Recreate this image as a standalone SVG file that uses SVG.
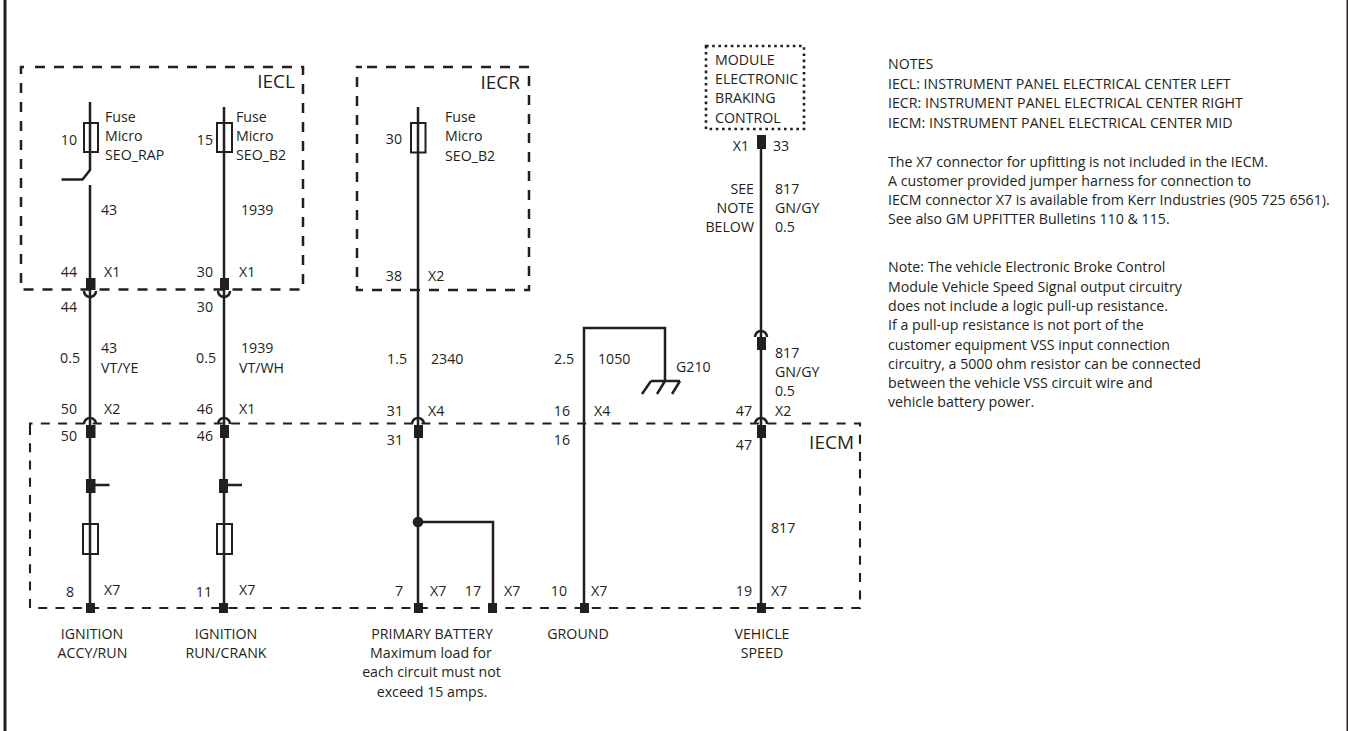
<svg xmlns="http://www.w3.org/2000/svg" width="1348" height="731" viewBox="0 0 1348 731">
<style>
text{font-family:"Open Sans","Noto Sans",sans-serif;font-size:14.2px;fill:#231f20}
.e{text-anchor:end}.m{text-anchor:middle}
.big{font-size:19px}
.w{fill:none;stroke:#231f20;stroke-width:2.5}
.b{fill:none;stroke:#231f20;stroke-width:2.5;stroke-dasharray:10 9}
.c{fill:none;stroke:#231f20;stroke-width:2.1;stroke-dasharray:9 8.300}
.d{fill:none;stroke:#231f20;stroke-width:2.6;stroke-dasharray:2.6 3.6}
.f{fill:none;stroke:#231f20;stroke-width:2}
.s{fill:#231f20}
</style>
<rect width="1348" height="731" fill="#fff"/>
<path d="M5 0V731" class="w" style="stroke-width:3"/>
<path d="M1347.500 0V731" class="w" style="stroke-width:2"/>
<g id="connectors">
<path d="M90 102V170L82.500 179.500H61.500" class="w"/>
<path d="M90 185V608" class="w"/>
<path d="M224 107V608" class="w"/>
<path d="M418 107V608" class="w"/>
<path d="M418 522H493V606" class="w"/>
<path d="M584 608V328H665V381" class="w"/>
<path d="M761 135V608" class="w"/>
<path d="M95 485H109.500M228 485H242" class="w"/>
<path d="M651 381H680M651 381L642 394M665 381L657 394M680 381L672 394" class="w"/>
<circle cx="418" cy="522" r="5.300" class="s"/>
</g>
<g id="IECL"><path d="M35 67H303V289.500H21V67H27" class="b"/><text x="295" y="88" class="big e">IECL</text>
<text x="105" y="122">Fuse</text><text x="105" y="141">Micro</text><text x="105" y="160">SEO_RAP</text><text x="77" y="145" class="e">10</text>
<text x="236" y="122">Fuse</text><text x="236" y="141">Micro</text><text x="236" y="160">SEO_B2</text><text x="213" y="145" class="e">15</text>
<text x="101" y="215">43</text><text x="241" y="215">1939</text>
<text x="77" y="277" class="e">44</text><text x="104" y="277">X1</text><text x="213" y="277" class="e">30</text><text x="239" y="277">X1</text>
<rect x="84" y="123" width="14" height="29" class="f"/><rect x="217" y="123" width="15" height="29" class="f"/></g>
<g id="IECR"><path d="M367 67H529V290H357V67H362" class="b"/><text x="520" y="89" class="big e">IECR</text>
<text x="445" y="122">Fuse</text><text x="445" y="141">Micro</text><text x="445" y="161">SEO_B2</text><text x="402" y="144" class="e">30</text>
<text x="402" y="281" class="e">38</text><text x="428" y="281">X2</text>
<rect x="411" y="123" width="14.500" height="29.500" class="f"/></g>
<g id="MODULE"><rect x="706" y="46" width="98" height="83" class="d"/>
<text x="715" y="65">MODULE</text><text x="715" y="84">ELECTRONIC</text><text x="715" y="103">BRAKING</text><text x="715" y="123">CONTROL</text>
<rect x="757" y="135" width="9" height="14" class="s"/>
<text x="749" y="151" class="e">X1</text><text x="773" y="151">33</text>
<text x="754" y="194" class="e">SEE</text><text x="754" y="213" class="e">NOTE</text><text x="754" y="232" class="e">BELOW</text>
<text x="775" y="194">817</text><text x="775" y="213">GN/GY</text><text x="775" y="232">0.5</text></g>
<g id="IECM"><path d="M30 430V423.500H860V608H30V430" class="c"/><text x="854" y="449" class="big e">IECM</text>
<text x="77" y="414" class="e">50</text><text x="104" y="414">X2</text><text x="77" y="441" class="e">50</text>
<text x="213" y="414" class="e">46</text><text x="239" y="414">X1</text><text x="213" y="441" class="e">46</text>
<text x="403" y="416" class="e">31</text><text x="428" y="416">X4</text><text x="403" y="445" class="e">31</text>
<text x="570" y="416" class="e">16</text><text x="594" y="416">X4</text><text x="570" y="445" class="e">16</text>
<text x="752" y="416" class="e">47</text><text x="775" y="416">X2</text><text x="752" y="450" class="e">47</text>
<text x="771" y="533">817</text>
<text x="74" y="597" class="e">8</text><text x="104" y="595">X7</text>
<text x="212" y="597" class="e">11</text><text x="239" y="595">X7</text>
<text x="403" y="596" class="e">7</text><text x="430" y="596">X7</text>
<text x="481" y="596" class="e">17</text><text x="504" y="596">X7</text>
<text x="567" y="596" class="e">10</text><text x="591" y="596">X7</text>
<text x="752" y="596" class="e">19</text><text x="771" y="596">X7</text>
<rect x="83" y="524" width="15" height="30" class="f"/><rect x="217" y="524" width="15" height="30" class="f"/>
<g class="s"><rect x="86" y="425" width="9.500" height="13"/><rect x="220" y="425" width="9" height="13"/><rect x="414" y="425" width="9" height="13"/><rect x="757" y="425" width="9" height="13"/>
<rect x="86" y="479" width="9.500" height="14"/><rect x="219" y="479" width="9" height="14"/>
<rect x="86" y="603" width="9" height="10"/><rect x="219" y="603" width="9" height="10"/><rect x="414" y="603" width="9" height="10"/><rect x="488" y="603" width="9" height="10"/><rect x="580" y="603" width="9" height="10"/><rect x="757" y="603" width="9" height="10"/>
<rect x="86" y="278" width="9.500" height="12"/><rect x="220" y="278" width="9" height="12"/><rect x="757" y="337" width="9" height="13"/></g>
<g class="w"><path d="M84 424A6 6 0 0 1 96 424"/><path d="M218 424A6 6 0 0 1 230 424"/><path d="M412 424A6 6 0 0 1 424 424"/><path d="M755 424A6 6 0 0 1 767 424"/><path d="M755 337A6 6 0 0 1 767 337"/><path d="M84 291A6 6 0 0 0 96 291"/><path d="M218 291A6 6 0 0 0 230 291"/></g>
</g>
<g id="harness">
<text x="77" y="312" class="e">44</text><text x="213" y="312" class="e">30</text>
<text x="101" y="353">43</text><text x="101" y="373">VT/YE</text><text x="80" y="363" class="e">0.5</text>
<text x="241" y="353">1939</text><text x="239" y="373">VT/WH</text><text x="216" y="363" class="e">0.5</text>
<text x="407" y="364" class="e">1.5</text><text x="431" y="364">2340</text>
<text x="574" y="364" class="e">2.5</text><text x="598" y="364">1050</text>
<text x="676" y="372">G210</text>
<text x="775" y="358">817</text><text x="775" y="377">GN/GY</text><text x="775" y="396">0.5</text>
</g>
<g id="labels">
<text x="92" y="639" class="m">IGNITION</text><text x="92.500" y="658" class="m">ACCY/RUN</text>
<text x="226" y="639" class="m">IGNITION</text><text x="226" y="658" class="m">RUN/CRANK</text>
<text x="432" y="639" class="m">PRIMARY BATTERY</text><text x="431" y="658" class="m">Maximum load for</text><text x="431.500" y="677" class="m">each circuit must not</text><text x="432" y="697" class="m">exceed 15 amps.</text>
<text x="578" y="639" class="m">GROUND</text>
<text x="762" y="639" class="m">VEHICLE</text><text x="762" y="658" class="m">SPEED</text>
</g>
<g id="notes">
<text x="888" y="69">NOTES</text>
<text x="888" y="89">IECL: INSTRUMENT PANEL ELECTRICAL CENTER LEFT</text>
<text x="888" y="108">IECR: INSTRUMENT PANEL ELECTRICAL CENTER RIGHT</text>
<text x="888" y="128">IECM: INSTRUMENT PANEL ELECTRICAL CENTER MID</text>
<text x="888" y="167">The X7 connector for upfitting is not included in the IECM.</text>
<text x="888" y="186">A customer provided jumper harness for connection to</text>
<text x="888" y="205">IECM connector X7 is available from Kerr Industries (905 725 6561).</text>
<text x="888" y="224">See also GM UPFITTER Bulletins 110 &amp; 115.</text>
<text x="888" y="272">Note: The vehicle Electronic Broke Control</text>
<text x="888" y="292">Module Vehicle Speed Signal output circuitry</text>
<text x="888" y="311">does not include a logic pull-up resistance.</text>
<text x="888" y="330">If a pull-up resistance is not port of the</text>
<text x="888" y="350">customer equipment VSS input connection</text>
<text x="888" y="369">circuitry, a 5000 ohm resistor can be connected</text>
<text x="888" y="388">between the vehicle VSS circuit wire and</text>
<text x="888" y="407">vehicle battery power.</text>
</g>
</svg>
